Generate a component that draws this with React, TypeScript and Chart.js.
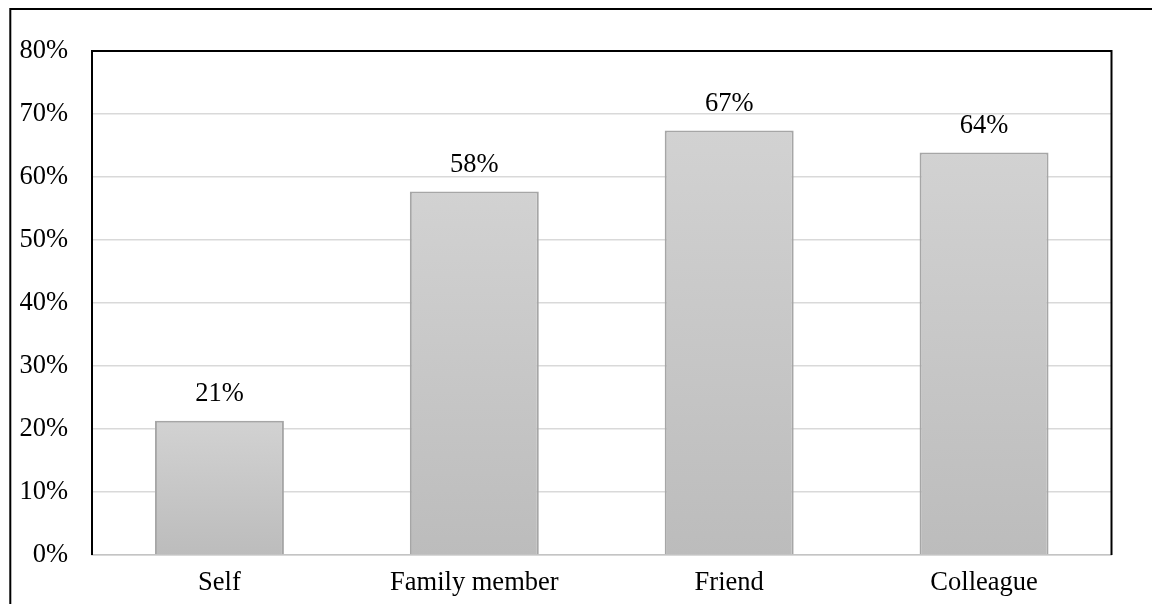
import React, { useEffect, useRef } from "react";
import { Chart, registerables } from "chart.js";

Chart.register(...registerables);

const categories = ["Self", "Family member", "Friend", "Colleague"];
const values = [21.3, 57.7, 67.4, 63.9];
const yTicks = [0, 10, 20, 30, 40, 50, 60, 70, 80];

const FONT = '"Liberation Serif", "Times New Roman", serif';
const FONT_SIZE = 26.5;

const framePlugin = {
  id: "frame",
  beforeDraw(chart: any) {
    const ctx = chart.ctx;
    ctx.save();
    ctx.fillStyle = "#ffffff";
    ctx.fillRect(0, 0, chart.width, chart.height);
    ctx.strokeStyle = "#000000";
    ctx.lineWidth = 2;
    ctx.beginPath();
    ctx.moveTo(chart.width, 1);
    ctx.lineTo(2.3, 1);
    ctx.lineTo(2.3, chart.height);
    ctx.stroke();
    ctx.restore();
  },
  afterDraw(chart: any) {
    const ctx = chart.ctx;
    const a = chart.chartArea;
    ctx.save();
    ctx.strokeStyle = "#000000";
    ctx.lineWidth = 2;
    ctx.beginPath();
    ctx.moveTo(a.left, a.bottom);
    ctx.lineTo(a.left, a.top);
    ctx.lineTo(a.right, a.top);
    ctx.lineTo(a.right, a.bottom);
    ctx.stroke();
    ctx.restore();
  },
};

const labelPlugin = {
  id: "barLabels",
  afterDatasetsDraw(chart: any) {
    const ctx = chart.ctx;
    const meta = chart.getDatasetMeta(0);
    ctx.save();
    ctx.font = `${FONT_SIZE}px ${FONT}`;
    ctx.fillStyle = "#000000";
    ctx.textAlign = "center";
    ctx.textBaseline = "alphabetic";
    meta.data.forEach((bar: any, i: number) => {
      ctx.fillText(Math.round(values[i]) + "%", bar.x, bar.y - 19.5);
    });
    ctx.restore();
  },
};

export default function App() {
  const ref = useRef<HTMLCanvasElement>(null);

  useEffect(() => {
    const canvas = ref.current!;
    const chart = new Chart(canvas, {
      type: "bar",
      data: {
        labels: categories,
        datasets: [
          {
            data: values,
            backgroundColor: (context: any) => {
              const c = context.chart;
              const yScale = c.scales?.y;
              if (!c.chartArea || !yScale || context.parsed == null) return "#c8c8c8";
              const top = yScale.getPixelForValue(context.parsed.y);
              const bottom = yScale.getPixelForValue(0);
              const g = c.ctx.createLinearGradient(0, top, 0, bottom);
              g.addColorStop(0, "#d2d2d2");
              g.addColorStop(1, "#bcbcbc");
              return g;
            },
            borderColor: "#a6a6a6",
            borderWidth: 2,
            borderSkipped: "bottom",
            categoryPercentage: 1,
            barPercentage: 0.506,
          },
        ],
      },
      options: {
        animation: false,
        responsive: false,
        devicePixelRatio: 1,
        layout: { padding: { top: 43, right: 48.5, left: 0, bottom: 0 } },
        plugins: {
          legend: { display: false },
          tooltip: { enabled: false },
        },
        scales: {
          x: {
            grid: { display: false, drawTicks: false },
            border: { display: true, color: "#c4c4c4", width: 1.5 },
            ticks: {
              color: "#000000",
              font: { family: FONT, size: FONT_SIZE },
              padding: 12,
              maxRotation: 0,
            },
            afterFit: (scale: any) => {
              scale.height = 49;
            },
          },
          y: {
            min: 0,
            max: 80,
            afterBuildTicks: (scale: any) => {
              scale.ticks = yTicks.map((v) => ({ value: v }));
            },
            grid: { color: "#d9d9d9", lineWidth: 1.5, drawTicks: false },
            border: { display: false },
            ticks: {
              color: "#000000",
              font: { family: FONT, size: FONT_SIZE },
              padding: 24,
              callback: (v: any) => v + "%",
            },
            afterFit: (scale: any) => {
              scale.width = 84;
            },
          },
        },
      },
      plugins: [framePlugin, labelPlugin],
    });
    return () => chart.destroy();
  }, []);

  return (
    <div style={{ width: 1152, height: 596 }}>
      <canvas ref={ref} width={1152} height={596} style={{ display: "block", width: 1152, height: 596 }} />
    </div>
  );
}
